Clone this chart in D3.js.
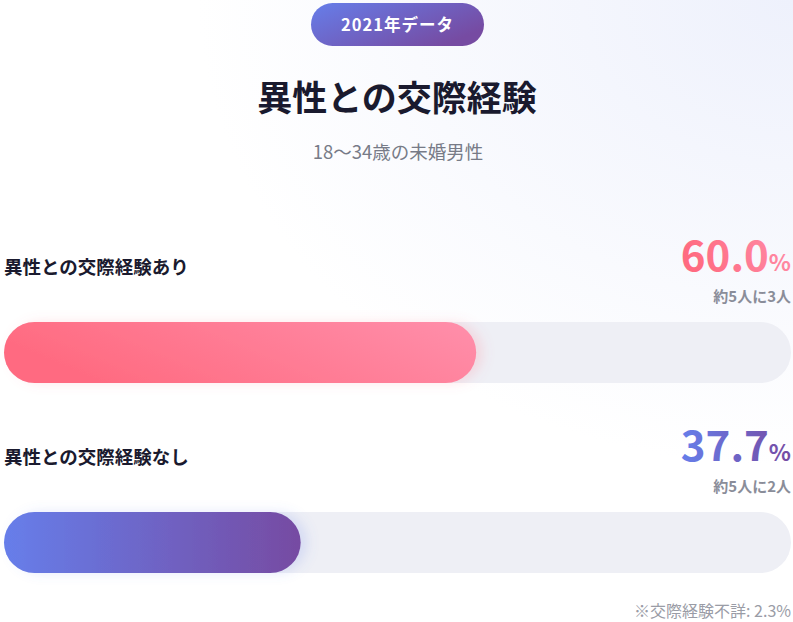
<!DOCTYPE html>
<html><head><meta charset="utf-8">
<script src="https://cdn.jsdelivr.net/npm/d3@7"></script>
<style>
html,body{margin:0;padding:0;background:#fff;}
svg{display:block;font-family:"Noto Sans CJK JP","Noto Sans",sans-serif;}
</style></head>
<body><div id="chart"></div>
<script>
const badgeText = "2021年データ";
const titleText = "異性との交際経験";
const subtitleText = "18〜34歳の未婚男性";
const categories = ["異性との交際経験あり", "異性との交際経験なし"];
const values = [60.0, 37.7];
const ratioLabels = ["約5人に3人", "約5人に2人"];
const footnote = "※交際経験不詳: 2.3%";
const gradColors = [["#ff6b81", "#ff8fab"], ["#667eea", "#764ba2"]];

const W = 793, H = 622;
const svg = d3.select("#chart").append("svg").attr("width", W).attr("height", H);
const defs = svg.append("defs");

const bg = defs.append("radialGradient").attr("id","bg").attr("cx","100%").attr("cy","0%").attr("r","75%");
bg.append("stop").attr("offset","0%").attr("stop-color","#eef1fc");
bg.append("stop").attr("offset","100%").attr("stop-color","#ffffff");
svg.append("rect").attr("width",W).attr("height",H).attr("fill","url(#bg)");

gradColors.forEach((c,i)=>{
  const g = defs.append("linearGradient").attr("id","g"+i).attr("x1","0%").attr("y1", i===0?"30%":"0%").attr("x2","100%").attr("y2", "0%");
  g.append("stop").attr("offset","0%").attr("stop-color",c[0]);
  g.append("stop").attr("offset","100%").attr("stop-color",c[1]);
  const f = defs.append("filter").attr("id","sh"+i).attr("x","-20%").attr("y","-50%").attr("width","140%").attr("height","200%");
  f.append("feDropShadow").attr("dx",7).attr("dy",0).attr("stdDeviation",6)
    .attr("flood-color", i===0 ? "#ff6b81" : "#667eea").attr("flood-opacity",0.18);
});
const bgBadge = defs.append("linearGradient").attr("id","gb").attr("x1","0%").attr("y1","0%").attr("x2","100%").attr("y2","60%");
bgBadge.append("stop").attr("offset","0%").attr("stop-color","#667eea");
bgBadge.append("stop").attr("offset","100%").attr("stop-color","#764ba2");

// badge
svg.append("rect").attr("x",311).attr("y",3).attr("width",173).attr("height",43).attr("rx",21.5).attr("fill","url(#gb)");
svg.append("text").attr("x",397.5).attr("y",31).attr("text-anchor","middle").attr("fill","#fff")
  .attr("font-size",16.5).attr("font-weight",700).attr("letter-spacing",1).text(badgeText);

svg.append("text").attr("x",397).attr("y",111).attr("text-anchor","middle").attr("fill","#1a1a2e")
  .attr("font-size",35).attr("font-weight",700).text(titleText);
svg.append("text").attr("x",398).attr("y",159).attr("text-anchor","middle").attr("fill","#777b87")
  .attr("font-size",18.5).text(subtitleText);

const x = d3.scaleLinear().domain([0,100]).range([4,791]);
const y = d3.scaleOrdinal().domain(categories).range([322, 512]);
const barH = 61;

categories.forEach((cat,i)=>{
  const by = y(cat);
  const g = svg.append("g");
  g.append("text").attr("x",4).attr("y",by-48).attr("fill","#1a1a2e").attr("font-size",18.5).attr("font-weight",700).text(cat);
  const vt = g.append("text").attr("x",791).attr("y",by-51).attr("text-anchor","end").attr("fill","url(#g"+i+")").attr("font-weight",700);
  vt.append("tspan").attr("font-size",42).text(values[i].toFixed(1));
  vt.append("tspan").attr("font-size",23).text("%");
  g.append("text").attr("x",791).attr("y",by-20).attr("text-anchor","end").attr("fill","#8a8d99")
    .attr("font-size",15).attr("font-weight",700).text(ratioLabels[i]);
  g.append("rect").attr("x",x(0)).attr("y",by).attr("width",x(100)-x(0)).attr("height",barH).attr("rx",barH/2).attr("fill","#eeeff5");
  g.append("rect").attr("x",x(0)).attr("y",by).attr("width",x(values[i])-x(0)).attr("height",barH).attr("rx",barH/2)
    .attr("fill","url(#g"+i+")").attr("filter","url(#sh"+i+")");
});

svg.append("text").attr("x",791).attr("y",617).attr("text-anchor","end").attr("fill","#9a9ca6").attr("font-size",16).text(footnote);
</script></body></html>
